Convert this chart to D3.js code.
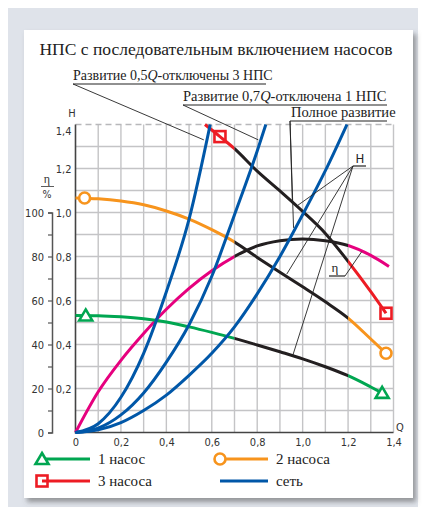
<!DOCTYPE html>
<html><head><meta charset="utf-8">
<script src="https://cdn.jsdelivr.net/npm/d3@7"></script>
<style>body{margin:0;background:#fff}svg{display:block}</style>
</head><body>
<svg id="c" width="424" height="515"></svg>
<script>
// ---- data ----
const qTicks = [0, 0.2, 0.4, 0.6, 0.8, 1.0, 1.2, 1.4];
const hTicks = [0.2, 0.4, 0.6, 0.8, 1.0, 1.2, 1.4];
const etaTicks = [0, 10, 20, 30, 40, 50, 60, 70, 80, 90, 100];
const etaLabels = [0, 20, 40, 60, 80, 100];

const pump1 = [[0,0.532],[0.1,0.531],[0.2,0.526],[0.3,0.517],[0.4,0.502],[0.5,0.48],[0.6,0.455],[0.7,0.428],[0.8,0.398],[0.9,0.367],[1.0,0.335],[1.1,0.299],[1.2,0.258],[1.3,0.207],[1.35,0.18]];
const pump2 = [[0,1.066],[0.1,1.062],[0.2,1.052],[0.3,1.035],[0.4,1.007],[0.5,0.97],[0.6,0.922],[0.7,0.866],[0.8,0.796],[0.9,0.728],[1.0,0.662],[1.1,0.594],[1.2,0.52],[1.3,0.425],[1.367,0.36]];
const pump3 = [[0.57,1.40],[0.636,1.345],[0.7,1.29],[0.8,1.188],[0.9,1.098],[1.0,1.005],[1.1,0.905],[1.2,0.778],[1.3,0.64],[1.367,0.542]];
const etaCurve = [[0,0],[0.1,0.185],[0.2,0.328],[0.3,0.45],[0.4,0.56],[0.5,0.655],[0.6,0.735],[0.7,0.8],[0.8,0.848],[0.9,0.872],[1.0,0.88],[1.1,0.872],[1.2,0.85],[1.3,0.805],[1.38,0.755]];
const net05 = [[0,0],[0.1,0.04],[0.2,0.16],[0.3,0.36],[0.4,0.64],[0.5,0.97],[0.593,1.40]];
const net07 = [[0,0],[0.1,0.02],[0.2,0.08],[0.3,0.18],[0.4,0.32],[0.5,0.49],[0.6,0.71],[0.7,0.99],[0.8,1.28],[0.838,1.40]];
const netFull = [[0,0],[0.1,0.012],[0.2,0.045],[0.3,0.1],[0.4,0.17],[0.5,0.26],[0.6,0.36],[0.7,0.48],[0.8,0.63],[0.9,0.8],[1.0,0.99],[1.1,1.19],[1.195,1.40]];
const markers1 = [[0.045,0.532],[1.35,0.18]];
const markers2 = [[0.04,1.066],[1.367,0.36]];
const markers3 = [[0.636,1.345],[1.367,0.542]];
const workRange = [0.7, 1.2];
const legendItems = ["1 насос", "2 насоса", "3 насоса", "сеть"];
const title = "НПС с последовательным включением насосов";

const C = {green:"#00a651", orange:"#f7941d", red:"#ed1c24", blue:"#0057a8", pink:"#e6007e", black:"#231f20", grid:"#c4c4c6"};

const svg = d3.select("#c");
svg.append("rect").attr("x",8).attr("y",8).attr("width",410).attr("height",499).attr("fill","#dfe3ea");
const defs = svg.append("defs");
const f = defs.append("filter").attr("id","sh").attr("x","-5%").attr("y","-5%").attr("width","115%").attr("height","115%");
f.append("feDropShadow").attr("dx",3).attr("dy",4).attr("stdDeviation",2.5).attr("flood-color","#555").attr("flood-opacity",0.55);
svg.append("rect").attr("x",24).attr("y",30).attr("width",389).attr("height",468).attr("fill","#fff").attr("filter","url(#sh)");

const x = d3.scaleLinear([0,1.4],[75.5,393.5]);
const y = d3.scaleLinear([0,1.4],[432.5,124.5]);
const eta = d3.scaleLinear([0,100],[432.5,y(1.0)]);
const fmt = d => d===0 ? "0" : d.toFixed(1).replace(".",",");

// clip paths for working range (black) and outside (colour)
defs.append("clipPath").attr("id","inR").append("rect")
  .attr("x",x(workRange[0])).attr("y",0).attr("width",x(workRange[1])-x(workRange[0])).attr("height",515);
const outC = defs.append("clipPath").attr("id","outR");
outC.append("rect").attr("x",0).attr("y",0).attr("width",x(workRange[0])).attr("height",515);
outC.append("rect").attr("x",x(workRange[1])).attr("y",0).attr("width",424-x(workRange[1])).attr("height",515);

// grid
const g = svg.append("g");
d3.range(1,15).forEach(i=>{
  g.append("line").attr("x1",x(i/10)).attr("x2",x(i/10)).attr("y1",y(0)).attr("y2",y(1.4))
   .attr("stroke",C.grid).attr("stroke-width",1.4);
});
d3.range(1,14).forEach(i=>{
  g.append("line").attr("x1",x(0)).attr("x2",x(1.4)).attr("y1",y(i/10)).attr("y2",y(i/10))
   .attr("stroke",C.grid).attr("stroke-width",1.4);
});
g.append("line").attr("x1",x(0)).attr("x2",x(1.4)).attr("y1",y(1.4)).attr("y2",y(1.4))
  .attr("stroke","#b8b8ba").attr("stroke-width",1.4).attr("stroke-dasharray","6,4");

// axes
const sans = "'DejaVu Sans Condensed','DejaVu Sans',sans-serif";
const serif = "'Liberation Serif','DejaVu Serif',serif";
const xa = svg.append("g").attr("transform",`translate(0,${y(0)})`)
  .call(d3.axisBottom(x).tickValues(qTicks).tickFormat(fmt).tickSize(0).tickPadding(6));
xa.select(".domain").remove();
xa.selectAll("text").attr("font-family",sans).attr("font-size",11).attr("fill","#333");
const ya = svg.append("g").attr("transform",`translate(${x(0)-4},0)`)
  .call(d3.axisLeft(y).tickValues(hTicks).tickFormat(fmt).tickSize(0).tickPadding(0));
ya.select(".domain").remove();
ya.selectAll("text").attr("font-family",sans).attr("font-size",11).attr("fill","#333");
ya.selectAll(".tick").filter(d=>d===1.4).select("text").attr("dy","0.9em");
svg.append("line").attr("x1",x(0)).attr("x2",x(0)).attr("y1",y(0)+1).attr("y2",y(1.4)).attr("stroke","#444").attr("stroke-width",1.6);
svg.append("line").attr("x1",x(0)).attr("x2",x(1.4)).attr("y1",y(0)).attr("y2",y(0)).attr("stroke","#444").attr("stroke-width",1.6);

const ea = svg.append("g").attr("transform","translate(52,0)")
  .call(d3.axisLeft(eta).tickValues(etaTicks).tickFormat(d=>etaLabels.includes(d)?d:"").tickSize(4).tickPadding(4));
ea.select(".domain").attr("stroke","#555").attr("stroke-width",1.5);
ea.selectAll(".tick line").attr("stroke","#555").attr("stroke-width",1.2);
ea.selectAll("text").attr("font-family",sans).attr("font-size",11).attr("fill","#333");

svg.append("text").attr("x",72).attr("y",117).attr("text-anchor","middle").attr("font-family",sans).attr("font-size",11).attr("fill","#333").text("H");
svg.append("text").attr("x",400).attr("y",431).attr("text-anchor","middle").attr("font-family",sans).attr("font-size",11).attr("fill","#333").text("Q");
svg.append("text").attr("x",47).attr("y",183).attr("text-anchor","middle").attr("font-family",serif).attr("font-size",12).attr("fill","#333").text("η");
svg.append("line").attr("x1",41).attr("x2",54).attr("y1",186.5).attr("y2",186.5).attr("stroke","#333").attr("stroke-width",0.8);
svg.append("text").attr("x",47).attr("y",198).attr("text-anchor","middle").attr("font-family",sans).attr("font-size",10.5).attr("fill","#333").text("%");

// curves
const line = d3.line().x(d=>x(d[0])).y(d=>y(d[1])).curve(d3.curveMonotoneX);
const plot = svg.append("g");
function draw(data,color,w,clip){
  const p = plot.append("path").attr("d",line(data)).attr("fill","none").attr("stroke",color).attr("stroke-width",w);
  if(clip) p.attr("clip-path",`url(#${clip})`);
}
function split(data,color){ draw(data,color,3,"outR"); draw(data,C.black,3,"inR"); }
split(etaCurve,C.pink);
split(pump1,C.green);
split(pump2,C.orange);
split(pump3,C.red);
[net05,net07,netFull].forEach(n=>draw(n,C.blue,3));

function tri(sel,cx,cy,col){ sel.append("path").attr("d",`M${cx},${cy-6}L${cx+6.5},${cy+5}L${cx-6.5},${cy+5}Z`).attr("fill","#fff").attr("stroke",col).attr("stroke-width",2.6).attr("stroke-linejoin","miter"); }
function circ(sel,cx,cy,col){ sel.append("circle").attr("cx",cx).attr("cy",cy).attr("r",5.5).attr("fill","#fff").attr("stroke",col).attr("stroke-width",2.6); }
function sq(sel,cx,cy,col){ sel.append("rect").attr("x",cx-5.5).attr("y",cy-5.5).attr("width",11).attr("height",11).attr("fill","none").attr("stroke",col).attr("stroke-width",2.6); }
markers1.forEach(d=>tri(plot,x(d[0]),y(d[1]),C.green));
markers2.forEach(d=>circ(plot,x(d[0]),y(d[1]),C.orange));
markers3.forEach(d=>sq(plot,x(d[0]),y(d[1]),C.red));

// annotations
const ann = svg.append("g").attr("font-family",serif).attr("fill","#222");
function lbl(xp,yp,pre,it,post,size){
  const t = ann.append("text").attr("x",xp).attr("y",yp).attr("font-size",size);
  t.append("tspan").text(pre);
  if(it){ t.append("tspan").attr("font-style","italic").text(it); t.append("tspan").text(post); }
  return t;
}
lbl(73,80,"Развитие 0,5","Q","-отключены 3 НПС",14);
lbl(183,101,"Развитие 0,7","Q","-отключена 1 НПС",14.5);
lbl(291,117,"Полное развитие",null,null,14.5);
const L = (a,b,c,d,w)=>ann.append("line").attr("x1",a).attr("y1",b).attr("x2",c).attr("y2",d).attr("stroke","#222").attr("stroke-width",w||0.9);
L(73,84,266,84,1.2); L(73,84,x(0.565),y(1.33));
L(183,105,387,105,1.2); L(183,105,x(0.805),y(1.33));
L(290,121,387,121,1.2); L(290,121,x(0.955),y(1.04)); L(290,121,x(0.96),y(0.93));
ann.append("text").attr("x",360).attr("y",163).attr("text-anchor","middle").attr("font-family",sans).attr("font-size",13).text("H");
L(353,166,366,166,1.2);
L(353,166,x(0.975),y(1.03)); L(353,166,x(0.93),y(0.72)); L(353,166,x(0.955),y(0.345));
ann.append("text").attr("x",335).attr("y",272).attr("text-anchor","middle").attr("font-size",13).text("η");
L(329,276,345,276,1.2); L(345,276,x(1.26),y(0.822));

// title
svg.append("text").attr("x",216).attr("y",55).attr("text-anchor","middle").attr("font-family",serif).attr("font-size",17.5).attr("fill","#222").text(title);

// legend
const lg = svg.append("g").attr("font-family",serif).attr("font-size",15).attr("fill","#222");
const legCols = [C.green, C.orange, C.red, C.blue];
const legMk = [tri, circ, sq, null];
legendItems.forEach((name,i)=>{
  const cx = i%2===0 ? 42 : 220, cy = i<2 ? 459 : 481;
  lg.append("line").attr("x1",cx).attr("x2",cx+48).attr("y1",cy).attr("y2",cy).attr("stroke",legCols[i]).attr("stroke-width",3);
  if(legMk[i]) legMk[i](lg,cx,cy,legCols[i]);
  lg.append("text").attr("x",cx+56).attr("y",cy+5).text(name);
});
</script>
</body></html>
